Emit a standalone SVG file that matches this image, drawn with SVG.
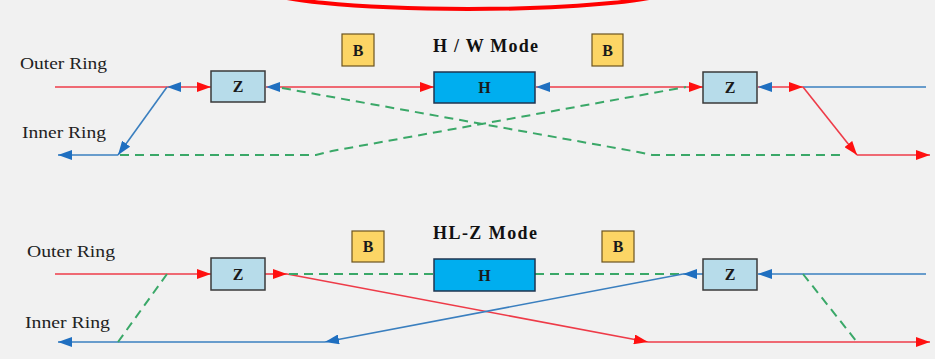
<svg xmlns="http://www.w3.org/2000/svg" width="935" height="359" viewBox="0 0 935 359">
<style>
.bg{fill:#f1f1f1}
.lbl{font-family:"Liberation Serif","Times New Roman",serif;font-size:17px;fill:#222}
.ttl{font-family:"Liberation Serif","Times New Roman",serif;font-size:18px;font-weight:bold;fill:#111}
.btxt{font-family:"Liberation Serif","Times New Roman",serif;font-size:16px;font-weight:bold;fill:#1a1a1a;text-anchor:middle}
.z{fill:#b7dcea;stroke:#3a3a3a;stroke-width:1.5}
.h{fill:#00aeef;stroke:#1f3550;stroke-width:1.5}
.b{fill:#fcd565;stroke:#6b5420;stroke-width:1.2}
.red{stroke:#ee3b48;stroke-width:1.6;fill:none}
.blue{stroke:#3a7fbf;stroke-width:1.6;fill:none}
.grn{stroke:#3aa868;stroke-width:2;fill:none;stroke-dasharray:9 6}
</style>
<defs>
<marker id="ar" viewBox="0 0 14 10" refX="14" refY="5" markerWidth="14" markerHeight="10" markerUnits="userSpaceOnUse" orient="auto-start-reverse"><path d="M0,0 L14,5 L0,10 Z" fill="#ff1010"/></marker>
<marker id="ab" viewBox="0 0 14 10" refX="14" refY="5" markerWidth="14" markerHeight="10" markerUnits="userSpaceOnUse" orient="auto-start-reverse"><path d="M0,0 L14,5 L0,10 Z" fill="#1f6fc0"/></marker>
</defs>
<rect class="bg" x="0" y="0" width="935" height="359"/>
<ellipse cx="468" cy="-12" rx="206" ry="21" fill="none" stroke="#ff0000" stroke-width="4"/>

<g id="labels">
<text class="lbl" x="20" y="69" textLength="87" lengthAdjust="spacingAndGlyphs">Outer Ring</text>
<text class="lbl" x="22" y="138" textLength="84" lengthAdjust="spacingAndGlyphs">Inner Ring</text>
<text class="ttl" x="433" y="52" textLength="105" lengthAdjust="spacing">H / W Mode</text>
<text class="lbl" x="27" y="257" textLength="88" lengthAdjust="spacingAndGlyphs">Outer Ring</text>
<text class="lbl" x="25" y="328" textLength="85" lengthAdjust="spacingAndGlyphs">Inner Ring</text>
<text class="ttl" x="433" y="239" textLength="104" lengthAdjust="spacing">HL-Z Mode</text>
</g>

<g id="connectors">
<!-- top -->
<line class="red" x1="55" y1="87" x2="167" y2="87"/>
<line class="red" x1="167" y1="87" x2="211" y2="87" marker-start="url(#ab)" marker-end="url(#ar)"/>
<line class="red" x1="266" y1="87" x2="434" y2="87" marker-start="url(#ab)" marker-end="url(#ar)"/>
<line class="red" x1="536" y1="87" x2="703" y2="87" marker-start="url(#ab)" marker-end="url(#ar)"/>
<line class="red" x1="758" y1="87" x2="803" y2="87" marker-start="url(#ab)" marker-end="url(#ar)"/>
<line class="blue" x1="803" y1="87" x2="926" y2="87"/>
<line class="red" x1="803" y1="87" x2="857" y2="155" marker-end="url(#ar)"/>
<line class="red" x1="857" y1="155" x2="930" y2="155" marker-end="url(#ar)"/>
<line class="blue" x1="167" y1="87" x2="118" y2="155" marker-end="url(#ab)"/>
<line class="blue" x1="118" y1="155" x2="58" y2="155" marker-end="url(#ab)"/>
<polyline class="grn" points="282,88 638,152 652,155 842,155"/>
<polyline class="grn" points="120,155 316,155 332,151 686,87"/>
<!-- bottom -->
<line class="red" x1="55" y1="274" x2="211" y2="274" marker-end="url(#ar)"/>
<line class="red" x1="265" y1="274" x2="287" y2="274" marker-end="url(#ar)"/>
<line class="red" x1="287" y1="274" x2="648" y2="342" marker-end="url(#ar)"/>
<line class="red" x1="648" y1="342" x2="930" y2="342" marker-end="url(#ar)"/>
<line class="grn" x1="289" y1="274" x2="434" y2="274"/>
<line class="grn" x1="535" y1="274" x2="690" y2="274"/>
<line class="blue" x1="926" y1="274" x2="758" y2="274" marker-end="url(#ab)"/>
<line class="blue" x1="703" y1="274" x2="683" y2="274" marker-end="url(#ab)"/>
<line class="blue" x1="683" y1="274" x2="325" y2="342" marker-end="url(#ab)"/>
<line class="blue" x1="325" y1="342" x2="58" y2="342" marker-end="url(#ab)"/>
<line class="grn" x1="167" y1="274" x2="118" y2="342"/>
<line class="grn" x1="803" y1="274" x2="857" y2="342"/>
</g>

<g id="top-z-left"><rect class="z" x="211" y="71" width="54" height="31"/><text class="btxt" x="238" y="92">Z</text></g>
<g id="top-h"><rect class="h" x="434" y="72" width="101" height="31"/><text class="btxt" x="484.5" y="93">H</text></g>
<g id="top-z-right"><rect class="z" x="703" y="72" width="54" height="31"/><text class="btxt" x="730" y="93">Z</text></g>
<g id="top-b-left"><rect class="b" x="342" y="34" width="32" height="32"/><text class="btxt" x="358" y="56">B</text></g>
<g id="top-b-right"><rect class="b" x="592" y="34" width="31" height="32"/><text class="btxt" x="607.5" y="56">B</text></g>

<g id="bot-z-left"><rect class="z" x="211" y="258" width="54" height="32"/><text class="btxt" x="238" y="280">Z</text></g>
<g id="bot-h"><rect class="h" x="434" y="259" width="101" height="32"/><text class="btxt" x="484.5" y="281">H</text></g>
<g id="bot-z-right"><rect class="z" x="703" y="259" width="54" height="31"/><text class="btxt" x="730" y="280">Z</text></g>
<g id="bot-b-left"><rect class="b" x="352" y="231" width="32" height="31"/><text class="btxt" x="368" y="252">B</text></g>
<g id="bot-b-right"><rect class="b" x="602" y="231" width="32" height="31"/><text class="btxt" x="618" y="252">B</text></g>
</svg>
